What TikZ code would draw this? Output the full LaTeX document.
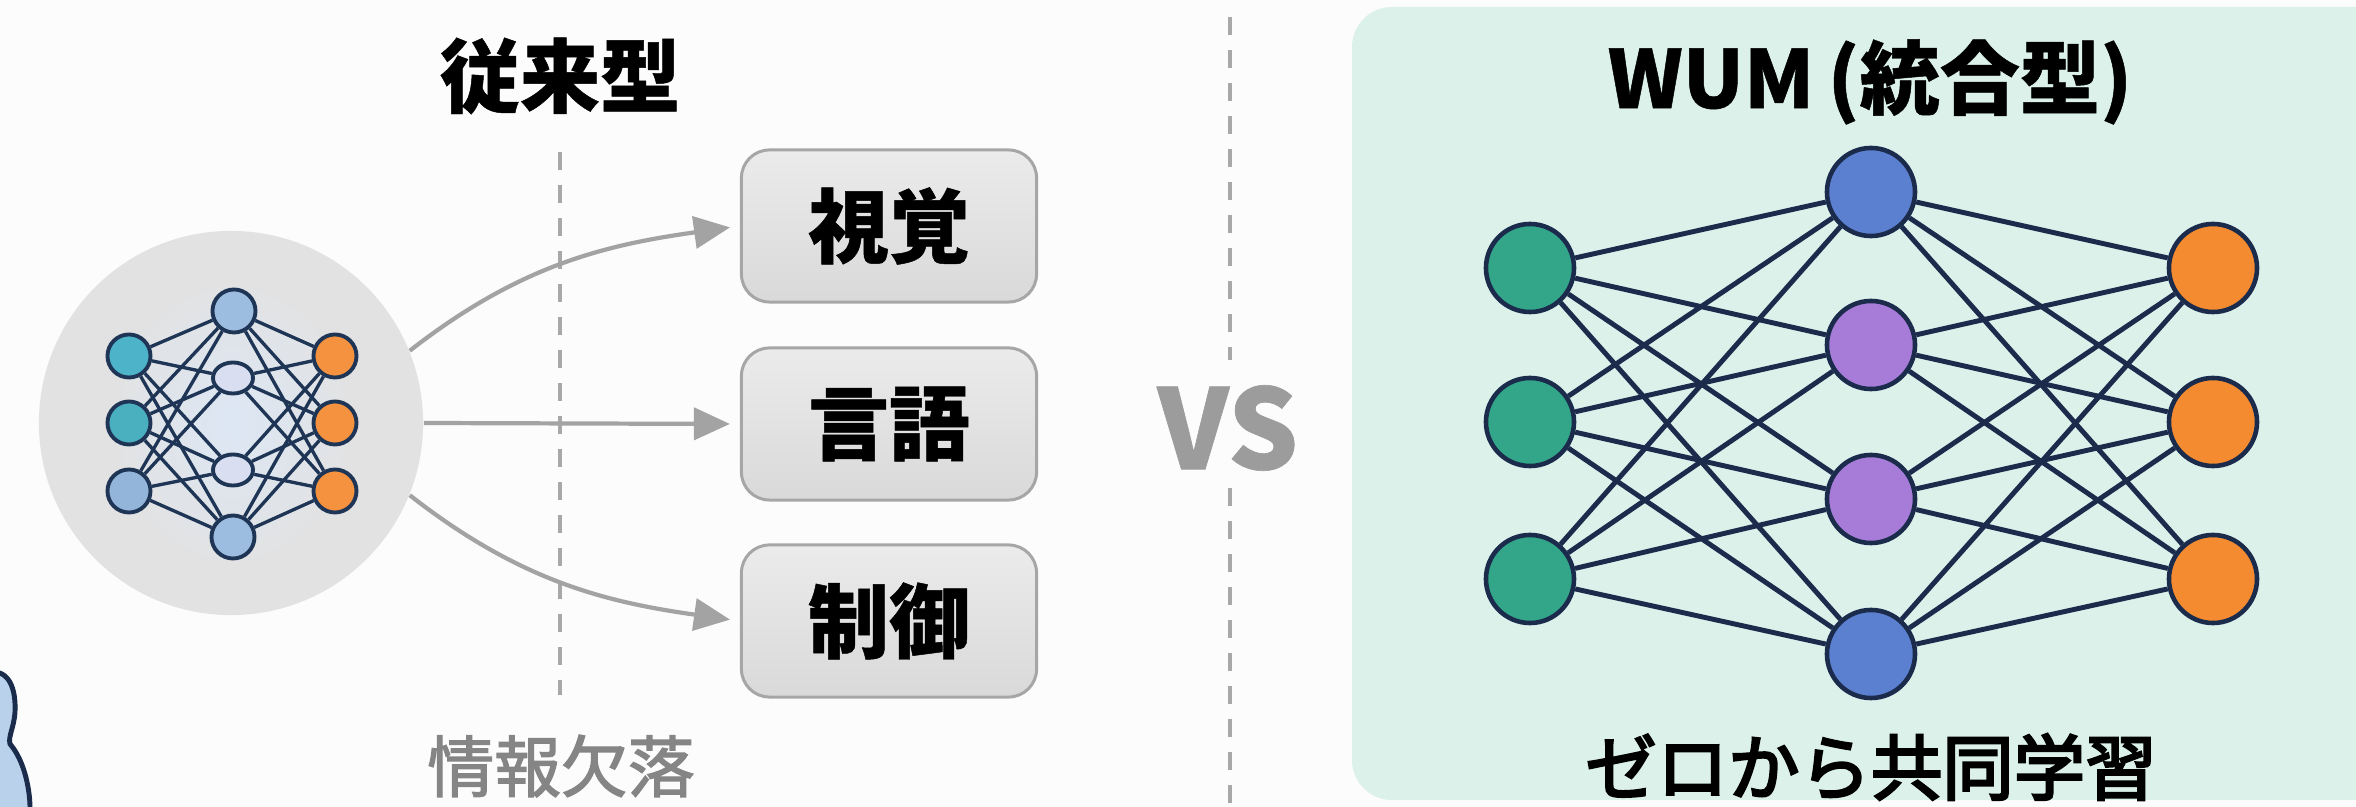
\documentclass[tikz,border=0pt]{standalone}
\usepackage{fontspec}
\setmainfont{Noto Sans CJK JP}[BoldFeatures={FakeBold=0.6}]
\newfontfamily\medfont{Noto Sans CJK JP}[FakeBold=2]
\newfontfamily\semibold{Noto Sans CJK JP}[UprightFeatures={FakeBold=3.5}]
\usetikzlibrary{arrows.meta,shapes.geometric}
\definecolor{bgwhite}{HTML}{FCFCFC}
\definecolor{mint}{HTML}{DBF1EA}
\definecolor{navy}{HTML}{1A2B4C}
\definecolor{snavy}{HTML}{1F3556}
\definecolor{circgray}{HTML}{E2E2E2}
\definecolor{glowblue}{HTML}{DCE7F4}
\definecolor{boxtop}{HTML}{EBEBEB}
\definecolor{boxbot}{HTML}{D9D9D9}
\definecolor{boxborder}{HTML}{A6A6A6}
\definecolor{arrowgray}{HTML}{A3A3A3}
\definecolor{dashgray}{HTML}{A8A8A8}
\definecolor{vsgray}{HTML}{9C9C9C}
\definecolor{lossgray}{HTML}{858585}
\definecolor{cgreen}{HTML}{33A68A}
\definecolor{cblue}{HTML}{5C80D0}
\definecolor{cpurple}{HTML}{A67CD8}
\definecolor{corange}{HTML}{F58B30}
\definecolor{steal}{HTML}{4DB3C9}
\definecolor{steal2}{HTML}{4AAFBF}
\definecolor{slblue}{HTML}{93B5D9}
\definecolor{smid}{HTML}{9DBDE0}
\definecolor{slav}{HTML}{D9DFF0}
\definecolor{sorange}{HTML}{F4923F}
\definecolor{iconblue}{HTML}{B9D1EA}
\begin{document}
\begin{tikzpicture}[x=0.01cm,y=-0.01cm,
  bignode/.style={circle, draw=navy, line width=1.3pt, minimum size=0.88cm, inner sep=0pt},
  smallnode/.style={circle, draw=snavy, line width=1.1pt, minimum size=0.43cm, inner sep=0pt},
  smallell/.style={ellipse, draw=snavy, line width=1.1pt, minimum width=0.40cm, minimum height=0.31cm, inner sep=0pt, fill=slav},
  netline/.style={draw=navy, line width=1.4pt},
  snetline/.style={draw=snavy, line width=0.95pt},
  stagebox/.style={rounded corners=0.28cm, draw=boxborder, line width=0.85pt, top color=boxtop, bottom color=boxbot, minimum width=2.95cm, minimum height=1.52cm, inner sep=0pt, font=\bfseries\fontsize{23}{23}\selectfont},
  arr/.style={draw=arrowgray, line width=1.2pt, shorten >=0.1cm, -{Triangle[length=0.36cm,width=0.32cm]}},
  dashline/.style={draw=dashgray, line width=0.9pt, dash pattern=on 0.18cm off 0.15cm},
  title/.style={font=\bfseries\fontsize{22.8}{24}\selectfont, text=black}
]
\useasboundingbox (0,0) rectangle (2356,807);
\clip (0,0) rectangle (2356,807);
\fill[bgwhite] (0,0) rectangle (2356,807);

% right panel
\fill[mint, rounded corners=0.4cm] (1352,7) rectangle (2450,800);

% dashed separators
\coordinate (d1a) at (560,152);
\coordinate (d1b) at (560,695);
\draw[dashline] (d1a) -- (d1b);
\coordinate (d2a) at (1230,17);
\coordinate (d2b) at (1230,360);
\coordinate (d2c) at (1230,488);
\coordinate (d2d) at (1230,807);
\draw[dashline] (d2a) -- (d2b);
\draw[dashline] (d2c) -- (d2d);

% left icon fragment
\draw[navy, line width=1.4pt, fill=iconblue] (-10,672) .. controls (10,670) and (16,690) .. (15,712)
  .. controls (14,728) and (8,736) .. (10,744) .. controls (24,760) and (31,790) .. (30,815) -- (-10,815) -- cycle;

% gray circle with small network
\node[circle, fill=circgray, minimum size=3.84cm, inner sep=0pt] (circ) at (231,423) {};
\shade[inner color=glowblue, outer color=circgray] (232,423) ellipse [x radius=1.25cm, y radius=1.5cm];

\node[smallnode, fill=steal]  (sl1) at (129,356) {};
\node[smallnode, fill=steal2] (sl2) at (129,423) {};
\node[smallnode, fill=slblue] (sl3) at (129,491) {};
\node[smallnode, fill=smid]   (sm1) at (234,311) {};
\node[smallell]               (sm2) at (233,378) {};
\node[smallell]               (sm3) at (233,470) {};
\node[smallnode, fill=smid]   (sm4) at (233,537) {};
\node[smallnode, fill=sorange] (sr1) at (335,356) {};
\node[smallnode, fill=sorange] (sr2) at (335,423) {};
\node[smallnode, fill=sorange] (sr3) at (335,491) {};
\foreach \a in {sl1,sl2,sl3}{\foreach \b in {sm1,sm2,sm3,sm4}{\draw[snetline] (\a) -- (\b);}}
\foreach \a in {sm1,sm2,sm3,sm4}{\foreach \b in {sr1,sr2,sr3}{\draw[snetline] (\a) -- (\b);}}

% boxes
\node[stagebox] (b1) at (889,226) {視覚};
\node[stagebox] (b2) at (889,424) {言語};
\node[stagebox] (b3) at (889,621) {制御};

% arrows
\draw[arr] (circ.22) to[out=38, in=188] (b1.west);
\draw[arr] (circ.east) -- (b2.west);
\draw[arr] (circ.-22) to[out=-38, in=172] (b3.west);

% texts
\node[title] (t1) at (560,76) {従来型};
\node[font=\medfont\fontsize{19}{20}\selectfont, text=lossgray] (loss) at (561,766) {情報欠落};
\node[font=\bfseries\fontsize{31.5}{32}\selectfont, text=vsgray] (vs) at (1228,428) {VS};
\node[title] (t2) at (1870,82) {WUM\,(統合型)};
\node[font=\semibold\fontsize{20.3}{22}\selectfont, text=black] (learn) at (1871,767) {ゼロから共同学習};

% big network
\node[bignode, fill=cgreen] (l1) at (1530,268) {};
\node[bignode, fill=cgreen] (l2) at (1530,422) {};
\node[bignode, fill=cgreen] (l3) at (1530,579) {};
\node[bignode, fill=cblue]   (m1) at (1871,192) {};
\node[bignode, fill=cpurple] (m2) at (1871,345) {};
\node[bignode, fill=cpurple] (m3) at (1871,499) {};
\node[bignode, fill=cblue]   (m4) at (1871,654) {};
\node[bignode, fill=corange] (r1) at (2213,268) {};
\node[bignode, fill=corange] (r2) at (2213,422) {};
\node[bignode, fill=corange] (r3) at (2213,579) {};
\foreach \a in {l1,l2,l3}{\foreach \b in {m1,m2,m3,m4}{\draw[netline] (\a) -- (\b);}}
\foreach \a in {m1,m2,m3,m4}{\foreach \b in {r1,r2,r3}{\draw[netline] (\a) -- (\b);}}
\end{tikzpicture}
\end{document}
